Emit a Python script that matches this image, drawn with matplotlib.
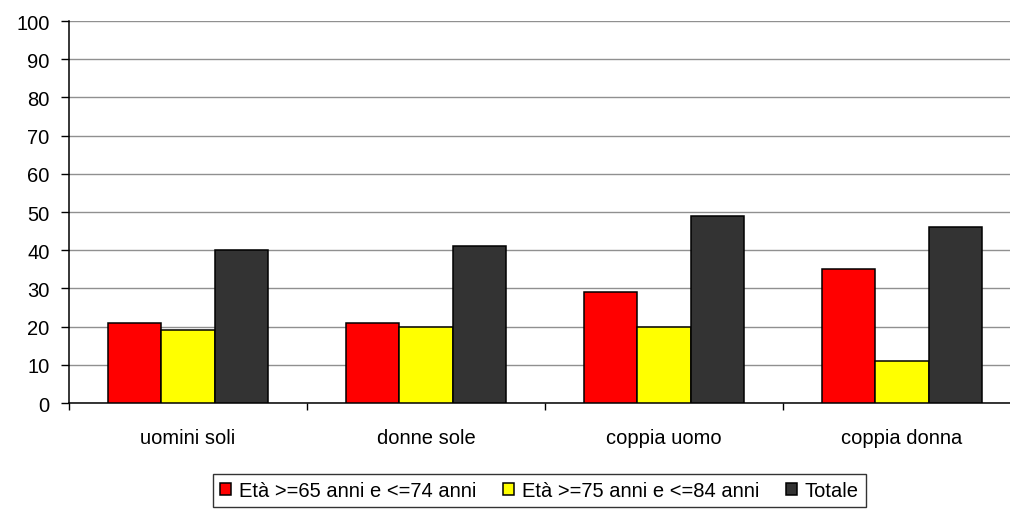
"""
Bar chart: Età per tipo di famiglia
"""
import numpy as np
import matplotlib.pyplot as plt

plt.rcParams['font.family'] = ['Liberation Sans', 'DejaVu Sans']

categories = ['uomini soli', 'donne sole', 'coppia uomo', 'coppia donna']
series_labels = ['Età >=65 anni e <=74 anni', 'Età >=75 anni e <=84 anni', 'Totale']
eta_65_74 = [21, 21, 29, 35]
eta_75_84 = [19, 20, 20, 11]
totale = [40, 41, 49, 46]
colors = ['#ff0000', '#ffff00', '#333333']

FS = 14.5

fig = plt.figure(figsize=(10.1, 5.1), dpi=100)
ax = fig.add_axes([0.0683, 0.2078, 0.9426, 0.749])

x = np.arange(len(categories))
width = 0.223
for i, (vals, lab, col) in enumerate(zip([eta_65_74, eta_75_84, totale], series_labels, colors)):
    ax.bar(x + (i - 1) * width, vals, width, color=col, edgecolor='black',
           linewidth=1.1, label=lab, zorder=3)

ax.set_xlim(-0.5, len(categories) - 0.5)
ax.set_ylim(0, 100)
ax.set_yticks(np.arange(0, 101, 10))
ax.yaxis.grid(True, color='#909090', linewidth=1.0, zorder=0)
ax.set_axisbelow(True)

# category boundaries as ticks, labels at centres
ax.set_xticks(np.arange(len(categories) + 1) - 0.5)
ax.set_xticklabels([])
ax.set_xticks(x, minor=True)
ax.set_xticklabels(categories, minor=True)
ax.tick_params(axis='x', which='minor', length=0, pad=18, labelsize=FS)
ax.tick_params(axis='x', which='major', length=5, width=1, direction='out')
ax.tick_params(axis='y', length=6, width=1, direction='out', labelsize=FS, pad=8)

for side in ['top', 'right']:
    ax.spines[side].set_visible(False)
for side in ['left', 'bottom']:
    ax.spines[side].set_linewidth(1.1)

leg = fig.legend(loc='upper left', bbox_to_anchor=(0.211, 0.0686), ncol=3,
                 frameon=True, fancybox=False, edgecolor='black',
                 fontsize=FS, handlelength=0.55, handleheight=0.55,
                 handletextpad=0.4, columnspacing=1.3, borderpad=0.35,
                 borderaxespad=0)
leg.get_frame().set_linewidth(1.0)

fig.savefig('out.png', dpi=100)
